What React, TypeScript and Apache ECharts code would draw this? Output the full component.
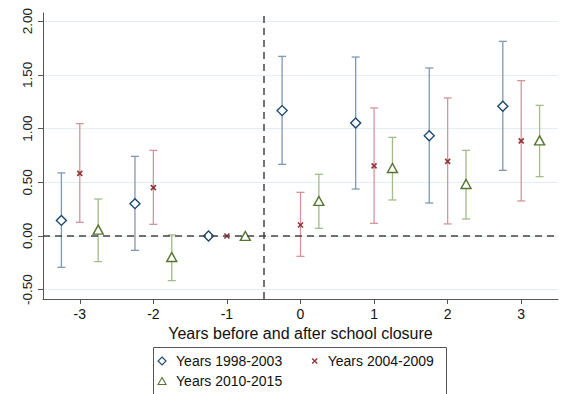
import React, { useEffect, useRef } from 'react';
import * as echarts from 'echarts';

// Event years (x axis categories as numbers)
const years = [-3, -2, -1, 0, 1, 2, 3];
const yTicks = [-0.5, 0, 0.5, 1, 1.5, 2];

// Years 1998-2003
const est9803 = [0.145, 0.301, 0, 1.167, 1.052, 0.934, 1.207];
const lo9803 = [-0.292, -0.134, null, 0.667, 0.437, 0.307, 0.611];
const hi9803 = [0.587, 0.741, null, 1.672, 1.666, 1.564, 1.812];

// Years 2004-2009
const est0409 = [0.583, 0.45, 0, 0.102, 0.652, 0.695, 0.885];
const lo0409 = [0.127, 0.108, null, -0.19, 0.117, 0.112, 0.326];
const hi0409 = [1.046, 0.797, null, 0.406, 1.192, 1.285, 1.446];

// Years 2010-2015
const est1015 = [0.059, -0.196, 0, 0.326, 0.633, 0.484, 0.89];
const lo1015 = [-0.239, -0.416, null, 0.071, 0.335, 0.158, 0.552];
const hi1015 = [0.344, 0.01, null, 0.574, 0.918, 0.797, 1.216];

const FONT = '"Liberation Sans", Arial, Helvetica, sans-serif';

const groups = [
  { name: 'Years 1998-2003', offset: -0.25, est: est9803, lo: lo9803, hi: hi9803, mark: '#1a476f', bar: '#7f98b6', symbol: 'diamond', size: [10, 10], bw: 1.4 },
  { name: 'Years 2004-2009', offset: 0, est: est0409, lo: lo0409, hi: hi0409, mark: '#90353b', bar: '#d4949b', symbol: 'path://M0,0L10,10M10,0L0,10', size: [5, 5], bw: 1.6 },
  { name: 'Years 2010-2015', offset: 0.25, est: est1015, lo: lo1015, hi: hi1015, mark: '#55752f', bar: '#a3bb88', symbol: 'triangle', size: [10, 9], bw: 1.4 },
];

export default function App() {
  const ref = useRef<HTMLDivElement>(null);
  useEffect(() => {
    if (!ref.current) return;
    const chart = echarts.init(ref.current, undefined, { renderer: 'svg' });
    const series: any[] = [];
    groups.forEach((g) => {
      series.push({
        name: g.name + ' CI',
        type: 'custom',
        silent: true,
        z: 2,
        encode: { x: 0, y: [1, 2] },
        data: years.map((y, i) => [y + g.offset, g.lo[i], g.hi[i]]),
        renderItem: (params: any, api: any) => {
          const x = api.value(0);
          const lo = api.value(1);
          const hi = api.value(2);
          if (lo == null || hi == null || isNaN(lo) || isNaN(hi)) return null;
          const p1 = api.coord([x, hi]);
          const p2 = api.coord([x, lo]);
          const w = 4;
          const st = { stroke: g.bar, lineWidth: 1.3 };
          return {
            type: 'group',
            children: [
              { type: 'line', shape: { x1: p1[0], y1: p1[1], x2: p2[0], y2: p2[1] }, style: st },
              { type: 'line', shape: { x1: p1[0] - w, y1: p1[1], x2: p1[0] + w, y2: p1[1] }, style: st },
              { type: 'line', shape: { x1: p2[0] - w, y1: p2[1], x2: p2[0] + w, y2: p2[1] }, style: st },
            ],
          };
        },
      });
    });
    groups.forEach((g, gi) => {
      const s: any = {
        name: g.name,
        type: 'scatter',
        z: 4,
        symbol: g.symbol,
        symbolSize: g.size,
        itemStyle: { color: gi === 1 ? 'none' : '#ffffff', borderColor: g.mark, borderWidth: g.bw, opacity: 1 },
        data: years.map((y, i) => [y + g.offset, g.est[i]]),
      };
      if (gi === 0) {
        s.markLine = {
          silent: true,
          symbol: ['none', 'none'],
          label: { show: false },
          lineStyle: { color: '#444', type: [7, 5], width: 1.5 },
          data: [{ yAxis: 0 }, { xAxis: -0.5 }],
        };
      }
      series.push(s);
    });

    const legendText = (pad: number) => ({ fontSize: 14, fontFamily: FONT, color: '#111', padding: [0, 0, 0, pad] });
    const legendBase = {
      orient: 'horizontal',
      padding: 0,
      selectedMode: false,
    };

    chart.setOption({
      animation: false,
      backgroundColor: '#ffffff',
      grid: { left: 43, right: 9, top: 13, height: 286, containLabel: false },
      xAxis: {
        type: 'value',
        min: -3.5,
        max: 3.5,
        axisLine: { show: true, onZero: false, lineStyle: { color: '#555', width: 1 } },
        axisTick: { show: true, customValues: years, length: 5, lineStyle: { color: '#555' } },
        axisLabel: { customValues: years, fontSize: 14, margin: 8, color: '#111', fontFamily: FONT },
        splitLine: { show: false },
        name: 'Years before and after school closure',
        nameLocation: 'middle',
        nameGap: 24,
        nameTextStyle: { fontSize: 16, color: '#111', fontFamily: FONT },
      },
      yAxis: {
        type: 'value',
        min: -0.587,
        max: 2.076,
        axisLine: { show: true, onZero: false, lineStyle: { color: '#555', width: 1 } },
        axisTick: { show: true, customValues: yTicks, length: 5, lineStyle: { color: '#555' } },
        axisLabel: {
          customValues: yTicks,
          rotate: 90,
          margin: 9,
          fontSize: 13.5,
          color: '#222',
          fontFamily: FONT,
          formatter: (v: number) => v.toFixed(2),
        },
        splitLine: { show: true, lineStyle: { color: '#e4edf1', width: 1 } },
      },
      legend: [
        { ...legendBase, data: ['Years 1998-2003'], left: 157.5, top: 354, itemWidth: 8, itemHeight: 8, textStyle: legendText(5), itemStyle: { color: '#ffffff', borderWidth: 1.1 } },
        { ...legendBase, data: ['Years 2004-2009'], left: 309.7, top: 354, itemWidth: 6, itemHeight: 5, textStyle: legendText(5), itemStyle: { borderWidth: 1.4 } },
        { ...legendBase, data: ['Years 2010-2015'], left: 157.5, top: 374, itemWidth: 8, itemHeight: 7, textStyle: legendText(5), itemStyle: { color: '#ffffff', borderWidth: 1.1 } },
      ],
      graphic: [
        {
          type: 'rect',
          z: -1,
          shape: { x: 153.5, y: 347.5, width: 293, height: 80 },
          style: { fill: 'none', stroke: '#555', lineWidth: 1 },
        },
      ],
      series,
    });
    return () => chart.dispose();
  }, []);
  return <div ref={ref} style={{ position: 'fixed', left: 0, top: 0, width: 567, height: 394 }} />;
}
